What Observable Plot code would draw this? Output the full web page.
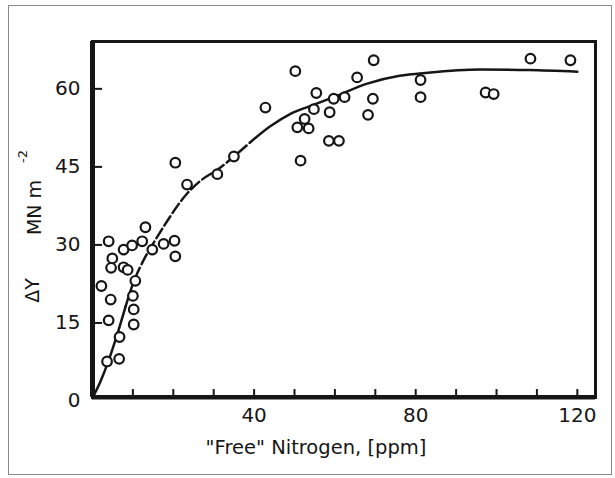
<!DOCTYPE html>
<html>
<head>
<meta charset="utf-8">
<script src="https://cdn.jsdelivr.net/npm/d3@7"></script>
<script src="https://cdn.jsdelivr.net/npm/@observablehq/plot@0.6"></script>
<style>
  html, body { margin: 0; padding: 0; background: #fff; }
  #wrap { position: relative; width: 615px; height: 478px; overflow: hidden; }
  #border { position: absolute; left: 8px; top: 5px; width: 604px; height: 470px; border: 1px solid #8a8a8a; box-sizing: border-box; pointer-events: none; }
  #chart { position: absolute; left: 0; top: 0; }
</style>
</head>
<body>
<div id="wrap"><div id="chart"></div><div id="border"></div></div>
<script>
// Measured points: "free" nitrogen (ppm) vs ΔY (MN m^-2)
const nitrogen = [4.0, 7.7, 9.8, 12.3, 14.8, 17.6, 20.3, 13.1, 4.9, 4.6, 7.7, 8.7, 10.6, 2.2, 4.5, 10.0, 10.2, 4.0, 6.7, 10.2, 3.6, 6.6,
  20.5, 23.4, 30.9, 35.0, 20.5, 42.8, 50.2, 69.6, 65.5, 55.4, 59.7, 62.4, 54.8, 58.7, 69.4, 68.2, 50.7, 53.5, 52.5, 58.5, 61.0, 51.5,
  108.4, 118.3, 81.2, 81.2, 97.3, 99.3];
const deltaY = [30.7, 29.1, 29.9, 30.7, 29.1, 30.2, 30.8, 33.4, 27.4, 25.6, 25.7, 25.2, 23.1, 22.1, 19.5, 20.2, 17.6, 15.5, 12.3, 14.7, 7.6, 8.1,
  45.8, 41.6, 43.6, 47.0, 27.8, 56.4, 63.4, 65.5, 62.2, 59.2, 58.1, 58.4, 56.1, 55.5, 58.1, 55.0, 52.6, 52.4, 54.2, 50.0, 50.0, 46.2,
  65.8, 65.5, 61.7, 58.4, 59.3, 59.0];

// Hand-drawn fitted curve
const curveN = [0, 2, 4, 6, 8.2, 10, 12.6, 15.6, 18, 23, 27, 31, 35, 39, 44, 49, 55, 60, 68, 76, 83, 96, 108, 120];
const curveY = [0.6, 3.8, 7.8, 12.5, 18.2, 22.5, 27, 31, 34, 39.5, 42.5, 44.5, 47, 49.7, 52.8, 55.2, 57, 58.5, 61, 62.5, 63.1, 63.7, 63.6, 63.3];

const xTickLabels = [40, 80, 120];
const xMinorTicks = [10, 20, 30, 40, 50, 60, 70, 80, 90, 100, 110, 120];
const yTickLabels = [0, 15, 30, 45, 60];
const yMinorTicks = [15, 30, 45, 60];
const xTitle = "\"Free\" Nitrogen, [ppm]";
const yTitleA = "ΔY";
const yTitleB = "MN m";
const yTitleSup = "-2";

const points = nitrogen.map((n, i) => ({n, y: deltaY[i]}));
const curve = curveN.map((n, i) => ({n, y: curveY[i]}));

const font = "DejaVu Sans, Verdana, sans-serif";
const ink = "#161616";

const chart = Plot.plot({
  width: 615,
  height: 478,
  marginLeft: 92,
  marginRight: 20,
  marginTop: 41,
  marginBottom: 81,
  style: {fontFamily: font, background: "transparent", color: ink},
  x: {domain: [0, 124.5]},
  y: {domain: [0, 69.1], range: [400.5, 41]},
  marks: [
    Plot.axisX({ticks: xTickLabels, tickSize: 0, tickPadding: 10, fontSize: 20, label: null}),
    Plot.axisY({ticks: yTickLabels, tickSize: 0, tickPadding: 12, fontSize: 20, label: null}),
    Plot.ruleX(xMinorTicks, {x: d => d, y1: 0.7, y2: 2.2, stroke: ink, strokeWidth: 2}),
    Plot.ruleY(yMinorTicks, {y: d => d, x1: 0, x2: 2.5, stroke: ink, strokeWidth: 2}),
    Plot.line(curve, {x: "n", y: "y", filter: d => d.n <= 8.2, curve: "monotone-x", stroke: ink, strokeWidth: 2.5}),
    Plot.line(curve, {x: "n", y: "y", filter: d => d.n >= 8.2 && d.n <= 39, curve: "monotone-x", stroke: ink, strokeWidth: 2.5, strokeDasharray: "11,4"}),
    Plot.line(curve, {x: "n", y: "y", filter: d => d.n >= 39, curve: "monotone-x", stroke: ink, strokeWidth: 2.5}),
    Plot.dot(points, {x: "n", y: "y", r: 4.8, stroke: ink, strokeWidth: 2.2, fill: "white"}),
    Plot.frame({stroke: ink, strokeWidth: 3}),
    Plot.ruleX([0], {y1: 0.7, y2: 69.1, stroke: ink, strokeWidth: 5}),
    Plot.ruleY([0.7], {stroke: ink, strokeWidth: 4.5}),
    Plot.text([xTitle], {frameAnchor: "bottom", dx: -28, dy: 56, fontSize: 19.5, fill: ink}),
    Plot.text([yTitleA], {frameAnchor: "left", textAnchor: "middle", lineAnchor: "middle", dx: -60, dy: 71, rotate: -90, fontSize: 19, fill: ink}),
    Plot.text([yTitleB], {frameAnchor: "left", textAnchor: "middle", lineAnchor: "middle", dx: -58, dy: -12, rotate: -90, fontSize: 19, fill: ink}),
    Plot.text([yTitleSup], {frameAnchor: "left", textAnchor: "middle", lineAnchor: "middle", dx: -70, dy: -63, rotate: -90, fontSize: 13, fill: ink})
  ]
});
document.getElementById("chart").appendChild(chart);
</script>
</body>
</html>
